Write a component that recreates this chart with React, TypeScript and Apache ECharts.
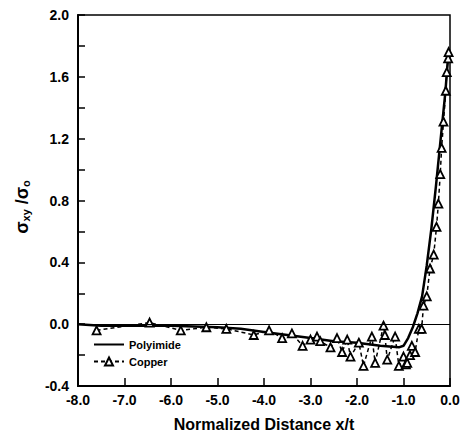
import React, { useEffect, useRef } from "react";
import * as echarts from "echarts";

const xTicks = [-8, -7, -6, -5, -4, -3, -2, -1, 0];
const polyimide: [number, number][] = [
  [-8.0, 0.0], [-7.5, -0.01], [-6.5, -0.01], [-6.0, -0.01], [-5.0, -0.02], [-4.5, -0.03],
  [-4.0, -0.05], [-3.5, -0.07], [-3.0, -0.09], [-2.5, -0.11], [-2.0, -0.12], [-1.5, -0.14],
  [-1.1, -0.15], [-1.0, -0.14], [-0.9, -0.09], [-0.8, -0.02], [-0.7, 0.07], [-0.6, 0.18],
  [-0.5, 0.38], [-0.4, 0.62], [-0.3, 0.9], [-0.2, 1.2], [-0.1, 1.5], [-0.03, 1.77],
];
const copper: [number, number][] = [
  [-7.6, -0.04], [-6.46, 0.01], [-5.79, -0.04], [-5.24, -0.02], [-4.81, -0.03], [-4.22, -0.07],
  [-3.89, -0.04], [-3.61, -0.09], [-3.4, -0.06], [-3.17, -0.14], [-3.0, -0.1], [-2.86, -0.08],
  [-2.79, -0.11], [-2.57, -0.15], [-2.43, -0.09], [-2.32, -0.18], [-2.21, -0.1], [-2.14, -0.21],
  [-1.96, -0.12], [-1.86, -0.27], [-1.68, -0.08], [-1.61, -0.25], [-1.43, -0.01], [-1.4, -0.07],
  [-1.35, -0.23], [-1.18, -0.08], [-1.1, -0.27], [-1.0, -0.21], [-0.95, -0.26], [-0.92, -0.25],
  [-0.86, -0.2], [-0.82, -0.14], [-0.75, -0.18], [-0.67, -0.03], [-0.61, -0.03], [-0.57, 0.12],
  [-0.5, 0.18], [-0.43, 0.36], [-0.35, 0.45], [-0.29, 0.63], [-0.25, 0.78], [-0.21, 0.97],
  [-0.18, 1.14], [-0.14, 1.31], [-0.09, 1.51], [-0.07, 1.63], [-0.04, 1.72], [-0.03, 1.76],
];

const FONT = "'Liberation Sans', Arial, sans-serif";

export default function App() {
  const ref = useRef<HTMLDivElement>(null);
  useEffect(() => {
    if (!ref.current) return;
    const chart = echarts.init(ref.current, null, { renderer: "svg" });
    const fmt = (v: number) => (Math.abs(v) < 1e-9 ? "0.0" : v.toFixed(1));
    const yfmt = (v: number) => {
      const k = Math.round(v * 10);
      if (k % 4 !== 0) return "";
      return k === 0 ? "0.0" : (k / 10).toFixed(1);
    };
    chart.setOption({
      animation: false,
      backgroundColor: "#fff",
      grid: {
        left: 78, right: 14, top: 15, bottom: 51,
        show: true, borderColor: "#000", borderWidth: 1.5,
      },
      legend: {
        orient: "vertical", left: 93, top: 339, itemWidth: 30, itemHeight: 10,
        itemGap: 6, padding: 0,
        textStyle: { fontFamily: FONT, fontSize: 11, fontWeight: "bold", color: "#000" },
        data: [
          { name: "Polyimide", itemStyle: { opacity: 0 } },
          { name: "Copper" },
        ],
      },
      xAxis: {
        type: "value", min: -8, max: 0, interval: 1,
        name: "Normalized Distance x/t", nameLocation: "middle", nameGap: 30,
        nameTextStyle: { fontFamily: FONT, fontSize: 16, fontWeight: "bold", color: "#000" },
        axisLine: { onZero: false, lineStyle: { color: "#000", width: 2 } },
        axisTick: { inside: true, length: 8, lineStyle: { color: "#000", width: 1.5 } },
        axisLabel: { formatter: fmt, fontFamily: FONT, fontSize: 14, fontWeight: "bold", color: "#000", margin: 7 },
        splitLine: { show: false },
      },
      yAxis: {
        type: "value", min: -0.4, max: 2.0, interval: 0.2,
        axisLine: { onZero: false, lineStyle: { color: "#000", width: 2 } },
        axisTick: { inside: true, length: 7, lineStyle: { color: "#000", width: 1.5 } },
        axisLabel: { formatter: yfmt, fontFamily: FONT, fontSize: 14, fontWeight: "bold", color: "#000", margin: 9 },
        splitLine: { show: false },
      },
      graphic: [
        {
          type: "text", x: 22, y: 207, rotation: Math.PI / 2,
          style: {
            text: "σ{sub|xy} /σ{sub|o}",
            align: "center", verticalAlign: "middle",
            font: `bold 18px ${FONT}`, fill: "#000",
            rich: {
              sub: { fontSize: 11, fontWeight: "bold", fontFamily: FONT, verticalAlign: "bottom", padding: [8, 0, 0, 0] },
            },
          },
        },
      ],
      series: [
        {
          name: "Polyimide", type: "line", data: polyimide, showSymbol: false, symbol: "none",
          lineStyle: { color: "#000", width: 2.5 }, itemStyle: { color: "#000" },
          markLine: {
            silent: true, symbol: "none", label: { show: false },
            lineStyle: { color: "#000", width: 1.2, type: "solid" },
            data: [{ yAxis: 0 }],
          },
        },
        {
          name: "Copper", type: "line", data: copper, symbol: "triangle", symbolSize: 8,
          lineStyle: { color: "#000", width: 1.5, type: [4, 3] },
          itemStyle: { color: "#fff", borderColor: "#000", borderWidth: 1.8 },
        },
      ],
    });
    return () => chart.dispose();
  }, []);
  return <div ref={ref} style={{ width: 464, height: 437, position: "absolute", left: 0, top: 0 }} />;
}
